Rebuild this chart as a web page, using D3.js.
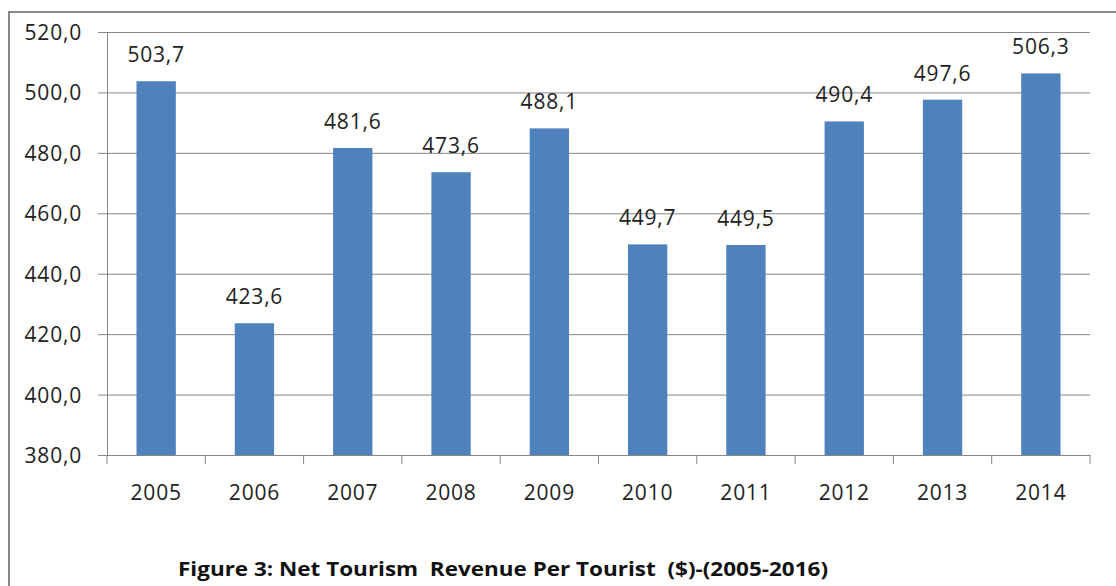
<!DOCTYPE html>
<html>
<head>
<meta charset="utf-8">
<script src="https://d3js.org/d3.v7.min.js"></script>
<style>
  html, body { margin: 0; padding: 0; background: #fff; }
  svg { display: block; }
</style>
</head>
<body>
<div id="chart"></div>
<script>
// data
var years = ["2005", "2006", "2007", "2008", "2009", "2010", "2011", "2012", "2013", "2014"];
var revenue = [503.7, 423.6, 481.6, 473.6, 488.1, 449.7, 449.5, 490.4, 497.6, 506.3];
var yTicks = [380, 400, 420, 440, 460, 480, 500, 520];
var caption = "Figure 3: Net Tourism  Revenue Per Tourist  ($)-(2005-2016)";

var width = 1116, height = 586;
var plotLeft = 107, plotRight = 1090, plotTop = 32, plotBottom = 455;
var font = "'Open Sans', 'Noto Sans', sans-serif";
var fmt = function (v) { return d3.format(".1f")(v).replace(".", ","); };

var svg = d3.select("#chart").append("svg").attr("width", width).attr("height", height);

// outer frame (runs off right / bottom edge)
svg.append("rect")
  .attr("x", 9).attr("y", 12)
  .attr("width", 1130).attr("height", 600)
  .attr("fill", "none").attr("stroke", "#878787").attr("stroke-width", 2);

var x = d3.scaleBand()
  .domain(years)
  .range([plotLeft, plotRight])
  .paddingInner(0.6)
  .paddingOuter(0.3);

var y = d3.scaleLinear()
  .domain([380, 520])
  .range([plotBottom, plotTop]);

// gridlines + y axis
var yAxis = svg.append("g")
  .attr("transform", "translate(" + plotLeft + ",0)")
  .call(d3.axisLeft(y).tickValues(yTicks).tickSize(9).tickFormat(fmt).tickPadding(16));
yAxis.select(".domain").attr("stroke", "#868686");
yAxis.selectAll(".tick line").attr("stroke", "#868686");
yAxis.selectAll(".tick").append("line")
  .attr("x1", 0).attr("x2", plotRight - plotLeft)
  .attr("stroke", "#868686").attr("stroke-width", 1);
yAxis.selectAll(".tick text")
  .attr("font-family", font).attr("font-size", 21).attr("letter-spacing", 0.8)
  .attr("fill", "#222").attr("dy", "0.36em");

// x axis
var xAxis = svg.append("g")
  .attr("transform", "translate(0," + plotBottom + ")")
  .call(d3.axisBottom(x).tickSize(0).tickPadding(45));
xAxis.select(".domain").attr("stroke", "#868686");
xAxis.selectAll(".tick text")
  .attr("font-family", font).attr("font-size", 21).attr("letter-spacing", 0.8)
  .attr("fill", "#222").attr("dy", 0);
// tick marks between categories
xAxis.selectAll(".sep")
  .data(d3.range(years.length + 1))
  .enter().append("line")
  .attr("x1", function (i) { return plotLeft + i * x.step(); })
  .attr("x2", function (i) { return plotLeft + i * x.step(); })
  .attr("y1", 0).attr("y2", 9)
  .attr("stroke", "#868686");

// bars
svg.append("g")
  .selectAll("rect")
  .data(years)
  .enter().append("rect")
  .attr("x", function (d) { return x(d); })
  .attr("y", function (d, i) { return y(revenue[i]); })
  .attr("width", x.bandwidth())
  .attr("height", function (d, i) { return plotBottom - y(revenue[i]); })
  .attr("fill", "#4F81BD");

// value labels
svg.append("g")
  .selectAll("text")
  .data(years)
  .enter().append("text")
  .attr("x", function (d) { return x(d) + x.bandwidth() / 2; })
  .attr("y", function (d, i) { return y(revenue[i]) - 19; })
  .attr("text-anchor", "middle")
  .attr("font-family", font).attr("font-size", 21).attr("letter-spacing", 0.8)
  .attr("fill", "#222")
  .text(function (d, i) { return fmt(revenue[i]); });

// caption
svg.append("text")
  .attr("x", 178).attr("y", 576)
  .attr("font-family", font).attr("font-size", 19).attr("font-weight", "bold")
  .attr("fill", "#111")
  .attr("xml:space", "preserve").style("white-space", "pre")
  .attr("textLength", 650).attr("lengthAdjust", "spacingAndGlyphs")
  .text(caption);
</script>
</body>
</html>
